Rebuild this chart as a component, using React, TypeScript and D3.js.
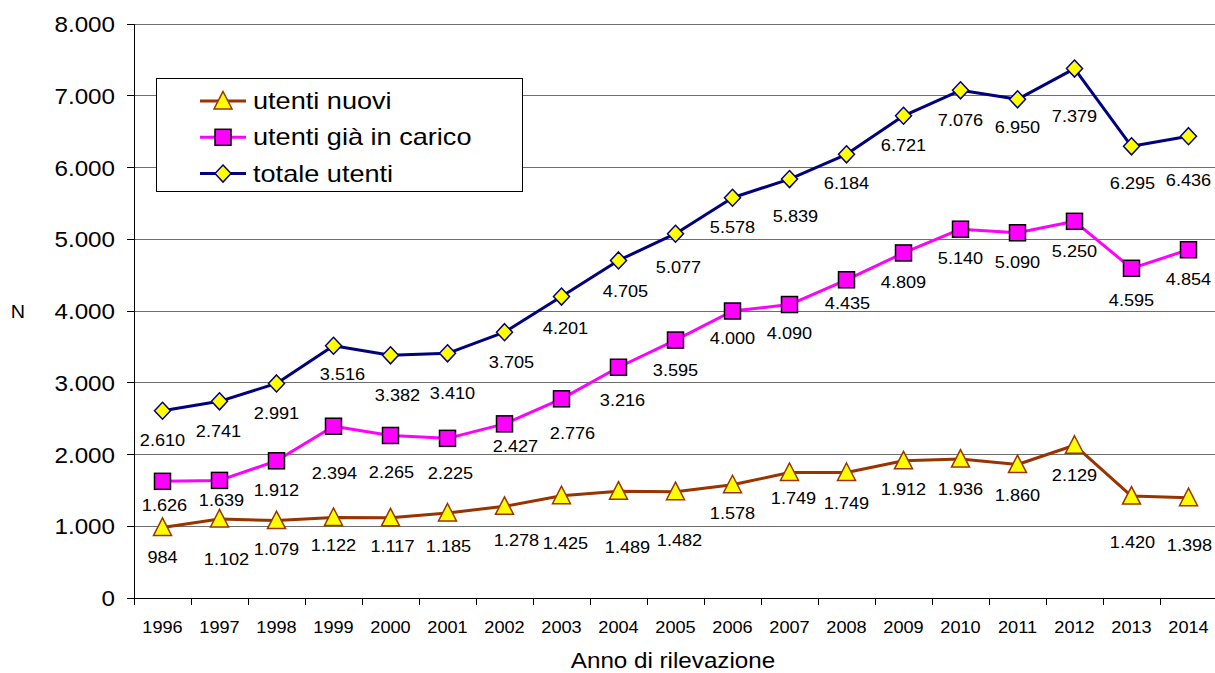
import React from "react";
import * as d3 from "d3";

const years = ["1996","1997","1998","1999","2000","2001","2002","2003","2004","2005","2006","2007","2008","2009","2010","2011","2012","2013","2014"];
const utentiNuovi = [984,1102,1079,1122,1117,1185,1278,1425,1489,1482,1578,1749,1749,1912,1936,1860,2129,1420,1398];
const utentiCarico = [1626,1639,1912,2394,2265,2225,2427,2776,3216,3595,4000,4090,4435,4809,5140,5090,5250,4595,4854];
const totaleUtenti = [2610,2741,2991,3516,3382,3410,3705,4201,4705,5077,5578,5839,6184,6721,7076,6950,7379,6295,6436];
const yTicks = [0,1000,2000,3000,4000,5000,6000,7000,8000];
const seriesNames = ["utenti nuovi", "utenti già in carico", "totale utenti"];

// manual label offsets (px) relative to each point
const nuoviDx = [0,7,0,0,2,1,12,4,9,4,0,4,0,0,0,0,0,1,1];
const nuoviDy = [30,40,28,28,28,33,34,47,56,48,28,25,30,28,30,30,30,46,47];
const caricoDx = [2,2,0,1,1,3,11,11,4,0,0,0,1,0,0,0,0,0,0];
const caricoDy = [24,20,29,47,37,35,22,34,33,30,27,28,23,29,29,29,30,32,29];
const totaleDx = [0,-1,0,9,7,5,7,4,7,3,0,6,0,0,0,0,0,1,0];
const totaleDy = [29,30,30,28,40,40,30,31,31,33,29,37,29,29,30,28,47,37,44];

const W = 1215, H = 673;
const left = 134, right = 1217, top = 24, bottom = 598;
const FONT = "'Liberation Sans', Arial, Helvetica, sans-serif";
const SX = 1.1;

const itFormat = d3.formatLocale({ decimal: ",", thousands: ".", grouping: [3], currency: ["", "€"] }).format(",");

const x = d3.scaleBand<string>().domain(years).range([left, right]);
const y = d3.scaleLinear().domain([0, 8000]).range([bottom, top]);
const cx = (yr: string) => (x(yr) as number) + x.bandwidth() / 2;

type Marker = "triangle" | "square" | "diamond";

function MarkerShape({ kind, px, py }: { kind: Marker; px: number; py: number }) {
  if (kind === "triangle") {
    return <path d={`M${px},${py - 9.5}L${px + 9},${py + 8}L${px - 9},${py + 8}Z`} fill="#FFFF00" stroke="#993300" strokeWidth={1.5} strokeLinejoin="miter" />;
  }
  if (kind === "square") {
    return <rect x={px - 8} y={py - 8} width={16} height={16} fill="#FF00FF" stroke="#000" strokeWidth={1.5} />;
  }
  return <path d={`M${px},${py - 8.5}L${px + 8},${py}L${px},${py + 8.5}L${px - 8},${py}Z`} fill="#FFFF00" stroke="#000080" strokeWidth={1.5} />;
}

function Txt({ tx, ty, size, anchor = "middle", sx = SX, children }: any) {
  return (
    <text transform={`translate(${tx},${ty}) scale(${sx},1)`} textAnchor={anchor} fontSize={size} fontFamily={FONT} fill="#000">
      {children}
    </text>
  );
}

const series = [
  { name: seriesNames[0], values: utentiNuovi, color: "#993300", marker: "triangle" as Marker, dx: nuoviDx, dy: nuoviDy },
  { name: seriesNames[1], values: utentiCarico, color: "#FF00FF", marker: "square" as Marker, dx: caricoDx, dy: caricoDy },
  { name: seriesNames[2], values: totaleUtenti, color: "#000080", marker: "diamond" as Marker, dx: totaleDx, dy: totaleDy },
];

export default function App() {
  const line = d3.line<number>().x((_, i) => cx(years[i])).y((v) => y(v));
  const LBL = 16.5;
  return (
    <div>
      <style>{`body{margin:0;}`}</style>
      <svg width={W} height={H} style={{ display: "block", background: "#fff" }}>
        {/* gridlines */}
        {yTicks.filter((t) => t > 0).map((t) => (
          <line key={t} x1={left} x2={right} y1={y(t)} y2={y(t)} stroke="#6e6e6e" strokeWidth={1} shapeRendering="crispEdges" />
        ))}
        {/* y axis */}
        <line x1={left} x2={left} y1={top} y2={bottom} stroke="#000" strokeWidth={1} shapeRendering="crispEdges" />
        {yTicks.map((t) => (
          <g key={t}>
            <line x1={left - 7} x2={left} y1={y(t)} y2={y(t)} stroke="#000" strokeWidth={1} shapeRendering="crispEdges" />
            <Txt tx={115} ty={y(t) + 8} size={22} anchor="end">{itFormat(t)}</Txt>
          </g>
        ))}
        {/* x axis */}
        <line x1={left} x2={right} y1={bottom} y2={bottom} stroke="#000" strokeWidth={1} shapeRendering="crispEdges" />
        {years.map((yr) => (
          <line key={"t" + yr} x1={x(yr) as number} x2={x(yr) as number} y1={bottom} y2={bottom + 7} stroke="#000" strokeWidth={1} shapeRendering="crispEdges" />
        ))}
        <line x1={right} x2={right} y1={bottom} y2={bottom + 7} stroke="#000" strokeWidth={1} />
        {years.map((yr) => (
          <Txt key={"l" + yr} tx={cx(yr)} ty={633} size={LBL}>{yr}</Txt>
        ))}
        <Txt tx={673} ty={668} size={22}>Anno di rilevazione</Txt>
        <Txt tx={18} ty={318} size={18}>N</Txt>

        {/* series */}
        {series.map((s) => (
          <g key={s.name}>
            <path d={line(s.values) as string} fill="none" stroke={s.color} strokeWidth={3} strokeLinejoin="round" />
            {s.values.map((v, i) => (
              <MarkerShape key={i} kind={s.marker} px={cx(years[i])} py={y(v)} />
            ))}
          </g>
        ))}
        {series.map((s) => (
          <g key={"lab" + s.name}>
            {s.values.map((v, i) => (
              <Txt key={i} tx={cx(years[i]) + s.dx[i]} ty={y(v) + s.dy[i] + 6} size={LBL}>{itFormat(v)}</Txt>
            ))}
          </g>
        ))}

        {/* legend */}
        <rect x={156} y={78} width={366} height={113} fill="#fff" stroke="#000" strokeWidth={1} shapeRendering="crispEdges" />
        {series.map((s, i) => {
          const ry = 101 + i * 36.3;
          return (
            <g key={"leg" + s.name}>
              <line x1={200} x2={246} y1={ry} y2={ry} stroke={s.color} strokeWidth={3} />
              <MarkerShape kind={s.marker} px={223} py={ry} />
              <Txt tx={253} ty={ry + 8} size={24} anchor="start" sx={1.13}>{s.name}</Txt>
            </g>
          );
        })}
      </svg>
    </div>
  );
}
